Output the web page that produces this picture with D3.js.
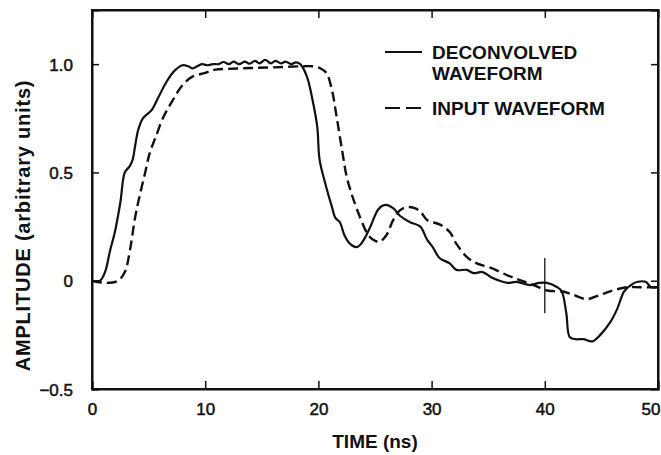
<!DOCTYPE html>
<html>
<head>
<meta charset="utf-8">
<script src="https://cdn.jsdelivr.net/npm/d3@7"></script>
<style>
  html, body { margin: 0; padding: 0; background: #fff; }
  svg text { font-family: "Liberation Sans", Arial, Helvetica, sans-serif; fill: #111; }
</style>
</head>
<body>
<div id="chart"></div>
<script>
// time (ns), amplitude
const deconvolved = [
  [0, 0], [0.7, 0], [1.15, 0.04], [1.6, 0.14], [2.0, 0.22], [2.5, 0.36], [2.9, 0.50],
  [3.35, 0.53], [3.6, 0.56], [3.8, 0.62], [4.1, 0.70], [4.5, 0.75], [5.3, 0.79],
  [5.8, 0.84], [6.6, 0.92], [7.3, 0.97], [8.0, 0.995], [8.5, 0.99], [8.9, 0.98],
  [9.3, 0.99], [9.7, 1.0], [10.2, 0.995], [10.7, 1.0], [11.2, 1.0], [11.6, 1.01],
  [12.1, 1.0], [12.5, 1.012], [13.0, 1.0], [13.5, 1.012], [13.9, 1.002], [14.4, 1.015],
  [14.8, 1.004], [15.3, 1.02], [15.8, 1.004], [16.2, 1.015], [16.7, 1.003], [17.1, 1.012],
  [17.6, 1.0], [18.0, 1.008], [18.4, 1.0], [19.0, 0.94], [19.5, 0.83], [19.9, 0.71],
  [20.1, 0.56], [20.6, 0.45], [21.2, 0.34], [21.5, 0.29], [21.9, 0.27], [22.3, 0.21],
  [22.8, 0.17], [23.4, 0.155], [23.9, 0.18], [24.6, 0.25], [25.3, 0.33], [25.9, 0.35],
  [26.6, 0.335], [27.2, 0.30], [28.1, 0.27], [29.0, 0.25], [29.6, 0.19], [30.1, 0.155],
  [30.7, 0.105], [31.6, 0.08], [32.2, 0.05], [33.1, 0.05], [33.7, 0.035], [34.5, 0.04],
  [35.4, 0.012], [36.7, -0.01], [37.5, -0.005], [38.7, -0.02], [39.5, -0.01], [40.2, -0.01],
  [41.1, -0.03], [41.5, -0.05], [41.9, -0.15], [42.2, -0.26], [42.7, -0.27], [43.4, -0.27],
  [44.2, -0.28], [44.9, -0.25], [45.8, -0.19], [46.4, -0.13], [47.0, -0.05], [47.6, -0.02],
  [48.2, -0.005], [48.9, -0.005], [49.4, -0.03], [50, -0.03]
];

const inputWave = [
  [0, 0], [1.15, -0.01], [2.3, 0], [2.9, 0.04], [3.35, 0.14], [3.8, 0.29], [4.2, 0.39],
  [4.7, 0.50], [5.1, 0.59], [5.6, 0.66], [6.3, 0.755], [7.1, 0.83], [7.95, 0.90],
  [8.8, 0.94], [10.0, 0.96], [10.9, 0.975], [12, 0.978], [14, 0.982], [16, 0.985],
  [18.4, 0.99], [19.5, 0.99], [20.2, 0.98], [20.7, 0.96], [21.2, 0.88], [21.6, 0.76],
  [22.1, 0.60], [22.5, 0.48], [23.0, 0.39], [23.7, 0.29], [24.3, 0.22], [24.8, 0.19],
  [25.4, 0.18], [26.0, 0.21], [26.6, 0.28], [27.2, 0.325], [27.8, 0.34], [28.5, 0.335],
  [29.0, 0.32], [29.6, 0.28], [30.7, 0.26], [31.6, 0.225], [32.2, 0.17], [33.1, 0.11],
  [34.0, 0.08], [35.2, 0.06], [36.7, 0.025], [37.8, 0.003], [39.0, -0.02], [40.2, -0.045],
  [41.6, -0.05], [42.5, -0.065], [43.7, -0.085], [44.9, -0.065], [46.0, -0.045],
  [47.3, -0.03], [48.4, -0.03], [50, -0.03]
];

const xTicks = [0, 10, 20, 30, 40, 50];
const yTicks = [-0.5, 0, 0.5, 1.0];
const cursorMark = { t: 40, from: 0.105, to: -0.15 };

const legendItems = [
  { lines: ["DECONVOLVED", "WAVEFORM"], dash: null },
  { lines: ["INPUT WAVEFORM"], dash: "15,6" }
];

const W = 661, H = 455;
const margin = { top: 10, right: 3, bottom: 66, left: 92 };
const iw = W - margin.left - margin.right;
const ih = H - margin.top - margin.bottom;

const svg = d3.select("#chart").append("svg")
  .attr("width", W).attr("height", H);

const g = svg.append("g").attr("transform", `translate(${margin.left},${margin.top})`);

const x = d3.scaleLinear().domain([0, 50]).range([0, iw]);
const y = d3.scaleLinear().domain([-0.5, 1.25]).range([ih, 0]);

const fmtY = v => v === 0 ? "0" : d3.format(".1f")(v);

// axes with inward ticks
const xb = g.append("g").attr("transform", `translate(0,${ih})`)
  .call(d3.axisBottom(x).tickValues(xTicks).tickSize(-8).tickPadding(14));
const xt = g.append("g")
  .call(d3.axisTop(x).tickValues(xTicks.slice(1, -1)).tickSize(-8).tickFormat(""));
const yl = g.append("g")
  .call(d3.axisLeft(y).tickValues(yTicks).tickSize(-7).tickPadding(19).tickFormat(fmtY));
const yr = g.append("g").attr("transform", `translate(${iw},0)`)
  .call(d3.axisRight(y).tickValues(yTicks.slice(1)).tickSize(-7).tickFormat(""));

[xb, xt, yl, yr].forEach(a => {
  a.select(".domain").attr("stroke", "#111").attr("stroke-width", 2);
  a.selectAll(".tick line").attr("stroke", "#111").attr("stroke-width", 1.5);
  a.selectAll(".tick text")
    .style("font-family", '"Liberation Sans", Arial, sans-serif')
    .attr("font-size", 17).attr("fill", "#111")
    .attr("stroke", "#111").attr("stroke-width", 0.5);
});
yl.selectAll(".tick text").attr("dy", "0.36em");
// last label sits against the page edge, as in the scan
xb.selectAll(".tick text").filter(d => d === 50)
  .attr("text-anchor", "end").attr("x", 2);

// frame
g.append("rect").attr("width", iw).attr("height", ih)
  .attr("fill", "none").attr("stroke", "#111").attr("stroke-width", 2);

// curves
const line = d3.line()
  .x(d => x(d[0])).y(d => y(d[1]))
  .curve(d3.curveCatmullRom.alpha(0.5));

g.append("path").datum(inputWave)
  .attr("d", line).attr("fill", "none")
  .attr("stroke", "#111").attr("stroke-width", 2.4)
  .attr("stroke-dasharray", "10,5");

g.append("path").datum(deconvolved)
  .attr("d", line).attr("fill", "none")
  .attr("stroke", "#111").attr("stroke-width", 2.2)
  .attr("stroke-linejoin", "round");

// cursor mark at 40 ns
g.append("line")
  .attr("x1", x(cursorMark.t)).attr("x2", x(cursorMark.t))
  .attr("y1", y(cursorMark.from)).attr("y2", y(cursorMark.to))
  .attr("stroke", "#111").attr("stroke-width", 1.3);

// legend
const leg = svg.append("g").attr("transform", "translate(385,52)");
const rowY = [0, 56];
legendItems.forEach((it, i) => {
  const r = leg.append("g").attr("transform", `translate(0,${rowY[i]})`);
  r.append("line").attr("x1", 0).attr("x2", 37).attr("y1", 0).attr("y2", 0)
    .attr("stroke", "#111").attr("stroke-width", 2)
    .attr("stroke-dasharray", it.dash);
  it.lines.forEach((t, j) => {
    r.append("text").attr("x", 47).attr("y", 7 + j * 21)
      .attr("font-size", 19).attr("font-weight", "bold")
      .text(t);
  });
});

// axis titles
svg.append("text")
  .attr("x", margin.left + x(25)).attr("y", 448)
  .attr("text-anchor", "middle")
  .attr("font-size", 19).attr("font-weight", "bold")
  .text("TIME (ns)");

svg.append("text")
  .attr("transform", `translate(30,${margin.top + ih / 2 + 26}) rotate(-90)`)
  .attr("text-anchor", "middle")
  .attr("font-size", 20).attr("font-weight", "bold")
  .attr("letter-spacing", 0.8)
  .text("AMPLITUDE (arbitrary units)");
</script>
</body>
</html>
